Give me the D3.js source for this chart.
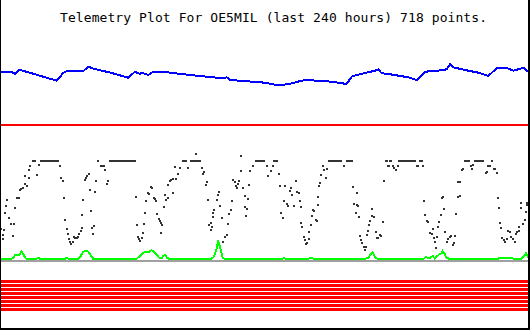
<!DOCTYPE html>
<html>
<head>
<meta charset="utf-8">
<script src="https://cdn.jsdelivr.net/npm/d3@7/dist/d3.min.js"></script>
<style>
body { margin: 0; background: #fff; }
svg { display: block; }
</style>
</head>
<body>
<svg class="chart"></svg>
<script>
var width = 530
var height = 330
var title = 'Telemetry Plot For OE5MIL (last 240 hours) 718 points.'
var hours = 240

// each channel: [hour, value]
var blueSeries = [[0,257.7],[5.0,257.7],[6.4,256.3],[8.3,260.3],[10.9,258.7],[17.8,254.2],[25.4,249.3],[28.4,257.3],
    [29.9,258.7],[37.5,259],[39.8,263.3],[42.0,261.3],[49.6,257.5],[58.0,252.3],[61.0,258.3],[63.3,256],[64.1,257.3],
    [67.1,255],[69.4,258.3],[73.2,258.3],[86.1,255],[101.2,251.7],[102.8,252.7],[104.3,250],[117.9,247.7],[120.2,247.3],
    [125.6,245],[130.8,245.7],[136.9,249.3],[139.2,250],[150.6,248.3],[157.4,246],[159.7,253.3],[162.0,255],[170.3,259.3],
    [171.8,260.7],[173.4,256.7],[176.4,256],[185.5,252.7],[189.3,250],[193.1,258.3],[199.1,259.3],[203.0,260.7],[204.5,266],
    [206.0,262.7],[211.3,260],[217.4,257.3],[221.9,254],[225.7,261.7],[230.3,262],[233.3,259.3],[235.6,260.7],[237.9,262.3],
    [239.4,259.3],[240,259.3]]

var redSeries = [[0,205.3],[48,205.3],[48.4,204.6],[48.8,205.3],[204,205.3],[206,204.6],[208,205.3],[212,204.6],[215,205.3],
    [220,204.6],[226,205.3],[232,204.6],[236,205.3],[240,205.3]]

var greenSeries = [[0,71.5],[5.0,71.5],[5.7,72.5],[6.4,75],[7.3,75.5],[8.2,75],[8.9,77],[9.3,78.3],[10.0,76.5],[10.9,72.5],
    [11.4,71.5],[16.4,71.5],[17.0,72.3],[17.5,71.5],[29.4,71.5],[29.9,72.3],[30.5,71.5],[35.5,71.5],[36.2,73.5],[37.5,78.3],
    [38.7,79.5],[39.8,78.3],[40.8,75],[41.9,71.5],[61.9,71.5],[63.3,74],[64.3,76.3],[65.3,77.7],[66.4,78.3],[67.3,77.7],
    [68.5,79.7],[69.7,78.3],[70.8,75.5],[71.9,72.5],[73.2,71.7],[73.9,74],[74.7,75],[75.5,72.5],[76.2,71.5],[95.9,71.5],
    [96.5,72.3],[97.2,74.5],[98.2,81.7],[98.9,88.3],[99.7,83.3],[100.5,76.7],[101.0,71.7],[101.6,71.5],[128.4,71.5],[128.9,72.3],
    [129.3,71.5],[140.3,71.5],[141.2,72.3],[142.1,71.5],[166.2,71.5],[167.3,72.3],[168.2,75],[169.1,77.7],[169.7,75.7],
    [170.6,72.3],[171.2,71.5],[192.6,71.5],[193.5,73.3],[194.5,71.7],[195.4,72],[196.6,74],[197.6,71.5],[198.4,73.3],
    [199.6,75.7],[200.7,76.7],[201.1,79],[201.9,76.7],[202.8,72.3],[203.7,71.5],[226.6,71.5],[227.2,72.3],[228.2,71.5],
    [229.1,72.3],[232.6,72.3],[233.2,71.5],[237.0,71.5],[237.9,73.3],[239.1,76.7],[239.7,75],[240,72]]

var greySeries = [[0,69],[240,69]]

var stripeLevels = [48.5, 44.5, 40.5, 36.5, 32.5, 28.5, 24.5, 20.5]

var blackPoints = [[0.1,101],[0.8,95],[1.0,91],[1.4,100],[2.0,117],[2.3,124],[2.9,130],[3.8,112],[4.4,106],[5.3,94],
    [5.9,106],[6.4,122],[7.1,132],[8.2,132],[8.7,140],[9.3,141],[10.0,142],[10.8,146],[11.1,154],[11.7,144],[12.6,152],
    [12.9,160],[13.4,164],[14.6,169],[15.1,169],[15.5,169],[16.4,155],[17.4,165],
    [18.2,169],[19.0,169],[19.8,169],[20.6,169],[21.4,169],[22.2,169],[23.0,169],[23.8,169],[24.6,169],[25.4,169],[26.0,169],
    [26.9,164],[27.5,152],[28.4,149],[28.8,132],[29.3,110],[29.9,101],[30.4,96],[31.0,91],[31.4,88],[32.0,86],[32.7,88],
    [33.2,93],[33.8,92],[34.5,92],[35.2,93],[35.7,96],[36.3,99],[36.8,102],[37.0,115],[37.5,130],[38.4,150],[38.7,152],
    [39.3,154],[39.9,156],[40.5,140],[41.1,119],[41.4,102],[42.0,96],[42.5,104],[42.9,138],[43.3,149],[44.4,169],
    [45.5,164],[46.2,164],[46.9,164],[47.5,160],[48.1,146],[48.9,149],
    [49.6,169],[50.4,169],[51.2,169],[52.0,169],[52.8,169],[53.6,169],[54.4,169],[55.2,169],[56.0,169],[56.8,169],[57.6,169],
    [58.4,169],[59.2,169],[60.0,169],[60.8,169],[61.0,169],
    [61.6,133],[62.1,105],[62.5,93],[63.0,91],[63.4,89],[64.1,92],[64.5,97],[65.1,106],[65.7,117],[66.2,129],[66.8,137],
    [67.3,136],[68.2,143],[68.8,142],[69.5,132],[70.1,131],[70.6,129],[71.2,116],[71.8,111],[72.3,109],[72.7,107],[73.0,97],
    [73.5,105],[74.1,123],[74.7,135],[75.3,130],[75.9,132],[76.2,145],[76.8,149],[77.3,150],[78.2,137],[78.5,151],[79.2,163],
    [79.7,151],[80.6,156],[81.7,162],[83.0,169],[83.8,169],[84.2,169],[85.3,162],
    [86.5,169],[87.3,169],[88.1,169],[88.9,169],[89.7,169],[90.5,169],
    [88.9,176],[91.4,162],[91.9,156],[92.3,158],[93.2,145],[93.8,148],[94.4,130],[94.9,105],[95.5,107],[95.6,100],[96.0,103],
    [96.4,113],[96.7,117],[97.1,120],[98.2,130],[98.7,135],[99.1,138],[99.7,124],[100.5,112],[101.2,88],[102.0,93],[102.8,95],
    [103.2,106],[103.8,116],[104.6,120],[105.1,129],[105.8,150],[106.4,148],[106.9,144],[107.3,142],[108.1,146],[108.5,149],
    [109.2,159],[109.4,174],[110.1,142],[111.0,123],[111.3,134],[111.7,114],[111.9,121],[112.5,131],[113.1,145],[113.5,159],
    [114.6,164],[116.3,169],[117.1,169],[117.9,169],[118.7,169],[119.5,169],[119.9,169],
    [121.0,164],[121.7,154],[122.8,159],[123.7,164],[124.5,169],[125.2,169],[125.6,169],
    [126.5,156],[127.1,144],[127.7,117],[128.3,112],[129.0,129],[129.5,144],[130.1,126],[130.7,124],[131.5,139],[131.9,142],
    [132.4,135],[133.4,124],[134.5,149],[134.9,138],[135.6,137],[136.2,129],[136.5,123],[136.8,107],[137.1,103],[137.8,93],
    [138.3,90],[138.9,86],[139.5,87],[140.1,91],[140.4,98],[141.0,105],[141.5,114],[141.9,120],[142.5,119],[143.5,110],
    [143.8,109],[144.2,125],[144.5,133],[145.0,144],[145.4,147],[145.9,155],[146.6,164],[147.1,160],[148.0,152],[148.6,161],
    [149.5,169],[150.3,169],[151.1,169],[151.9,169],[152.7,169],[153.5,169],[154.3,169],[155.0,169],
    [156.2,164],[157.4,169],[158.2,169],[159.0,169],[159.7,169],
    [160.4,143],[160.9,126],[161.5,117],[162.0,125],[162.3,137],[162.7,124],[163.2,113],[163.6,94],[163.9,90],[164.5,87],
    [165.2,83],[165.8,80],[166.2,83],[166.8,95],[167.3,99],[167.7,105],[168.2,109],[168.8,114],[169.1,121],[169.7,113],
    [170.6,98],[171.2,92],[171.8,92],[172.5,95],[173.1,94],[174.0,108],[174.6,149],[175.4,169],[175.9,169],[176.1,164],
    [176.7,164],[177.3,169],[177.8,169],[178.4,164],[179.1,162],[179.7,160],[180.7,164],
    [181.4,169],[182.2,169],[183.0,169],[183.8,169],[184.6,169],[185.4,169],[186.2,169],[187.0,169],[187.8,169],[188.4,169],
    [189.4,164],[190.0,164],[190.8,169],[191.4,169],[191.9,169],
    [192.3,164],[192.6,129],[193.1,115],[193.9,109],[194.5,108],[195.4,97],[196.1,96],[196.6,101],[197.2,92],[197.6,88],
    [198.1,82],[198.7,93],[199.2,103],[199.6,108],[200.2,115],[200.8,132],[201.4,133],[201.9,121],[202.3,98],[203.0,88],
    [203.6,91],[204.3,93],[204.9,94],[205.7,85],[206.2,87],[206.9,94],[207.3,116],[208.0,148],[208.3,133],[208.9,134],
    [209.0,148],[209.8,160],[210.3,161],[211.4,169],[212.2,169],[213.1,169],[213.9,164],[214.5,161],[215.1,165],
    [215.9,169],[216.7,169],[217.5,169],[218.3,169],[219.1,169],[219.6,169],
    [220.9,157],[221.5,158],[221.9,164],[222.7,164],[223.5,169],
    [224.5,161],[225.1,161],[225.7,157],[226.5,132],[226.9,122],[227.2,107],[227.7,102],[228.3,92],[229.1,90],[229.7,88],
    [230.6,91],[231.0,99],[231.8,98],[232.3,93],[233.0,91],[233.9,88],[234.5,96],[235.1,98],[235.8,103],[236.0,99],
    [236.7,127],[237.0,122],[237.9,106],[238.5,110],[239.1,118],[239.4,125],[239.7,127]]

var svg = d3.select('.chart')
    .attr('width', width)
    .attr('height', height)

var x = d3.scaleLinear().domain([0, hours]).range([1, 528])
var y = d3.scaleLinear().domain([0, 330]).range([330, 0])

var line = d3.line()
    .x(d => x(d[0]))
    .y(d => y(d[1]))

function drawLine(data, color, w) {
    svg.append('path')
        .datum(data)
        .attr('d', line)
        .attr('fill', 'none')
        .attr('stroke', color)
        .attr('stroke-width', w)
        .attr('shape-rendering', 'crispEdges')
}

// flat bit channels at the bottom
stripeLevels.forEach(function (lv) {
    drawLine([[0, lv], [hours, lv]], '#ff0000', 3)
})

drawLine(greySeries, '#a0a0a0', 2)
drawLine(greenSeries, '#00ff00', 2)
drawLine(redSeries, '#ff0000', 2)
drawLine(blueSeries, '#0000ff', 2)

svg.append('g')
    .selectAll('rect')
    .data(blackPoints)
    .join('rect')
    .attr('x', d => x(d[0]) - 1)
    .attr('y', d => y(d[1]) - 1)
    .attr('width', 2)
    .attr('height', 2)
    .attr('fill', '#333')
    .attr('shape-rendering', 'crispEdges')

// frame
svg.append('rect').attr('x', 0).attr('y', 0).attr('width', 1).attr('height', height).attr('fill', '#000')
svg.append('rect').attr('x', 528).attr('y', 0).attr('width', 2).attr('height', height).attr('fill', '#000')
svg.append('rect').attr('x', 0).attr('y', 328).attr('width', width).attr('height', 2).attr('fill', '#000')

svg.append('text')
    .attr('x', 60)
    .attr('y', 22)
    .attr('font-family', '"DejaVu Sans Mono", monospace')
    .attr('font-size', 13)
    .attr('textLength', 427)
    .attr('lengthAdjust', 'spacing')
    .attr('fill', '#000')
    .text(title)
</script>
</body>
</html>
